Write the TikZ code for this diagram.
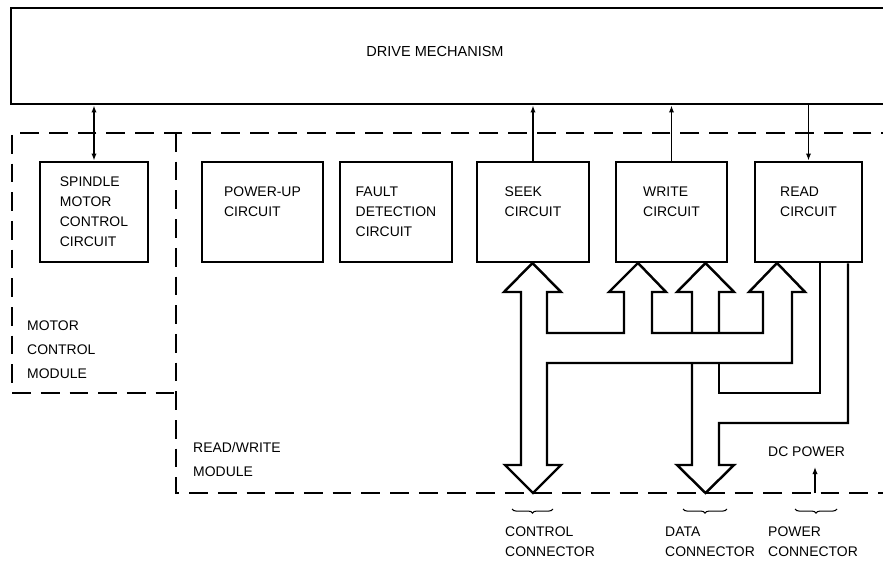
\documentclass[tikz,border=0pt]{standalone}
\usepackage{fontspec}
\setmainfont{Liberation Sans}
\usepackage{tikz}
\usetikzlibrary{arrows.meta,calc,decorations.pathreplacing}

\begin{document}
\begin{tikzpicture}[x=0.03cm,y=-0.03cm,>={Latex[length=6pt,width=4.5pt]},
  every node/.style={font=\fontsize{11.9}{17}\selectfont,inner sep=0pt},
  ckt/.style={draw,line width=2.5pt,minimum height=3cm,align=left},
  frame/.style={line width=2.4pt,dash pattern=on 16pt off 8.5pt},
  bus/.style={line width=2.1pt,line join=miter},
  sig/.style={line width=1.1pt},
  brc/.style={decorate,decoration={brace,mirror,amplitude=3.5pt},line width=0.9pt},
  lbl/.style={align=left,anchor=west},
  modlbl/.style={lbl,font=\fontsize{11.9}{20.5}\selectfont}]
  \useasboundingbox (0,0) rectangle (883,565);
  \clip (0,0) rectangle (883,565);
  \node[draw,line width=2.5pt,minimum width=26.7cm,minimum height=2.88cm] (drive) at (456,56) {};
  \node[font=\fontsize{12.4}{17}\selectfont] (drivetxt) at (435,52) {DRIVE MECHANISM};
  \draw[frame] (900,133) -- (12,133) -- (12,393) -- (176,393);
  \draw[frame] (176,133) -- (176,493) -- (900,493);
  \node[ckt,minimum width=3.24cm] (spindle) at (94,212) {SPINDLE\\MOTOR\\CONTROL\\CIRCUIT};
  \node[ckt,minimum width=3.63cm] (powerup) at (262.5,212) {POWER-UP\\CIRCUIT\\~};
  \node[ckt,minimum width=3.36cm] (fault) at (396,212) {FAULT\\DETECTION\\CIRCUIT};
  \node[ckt,minimum width=3.36cm] (seek) at (533,212) {SEEK\\CIRCUIT\\~};
  \node[ckt,minimum width=3.33cm] (write) at (671.5,212) {WRITE\\CIRCUIT\\~};
  \node[ckt,minimum width=3.21cm] (read) at (808.5,212) {READ\\CIRCUIT\\~};
  \draw[sig,<->] (spindle.north) -- (spindle.north |- drive.south);
  \draw[sig,->] (seek.north) -- (seek.north |- drive.south);
  \draw[sig,->] (write.north) -- (write.north |- drive.south);
  \draw[sig,<-] (read.north) -- (read.north |- drive.south);
  \draw[bus] (547,465) -- (547,363) -- (792,363) -- (792,292) -- (805,292) -- (777,263)
    -- (749,292) -- (763,292) -- (763,333) -- (652,333) -- (652,292) -- (666,292)
    -- (638,263) -- (609,292) -- (624,292) -- (624,333) -- (547,333) -- (547,292)
    -- (561,292) -- (532.5,263) -- (504,292) -- (521,292) -- (521,465) -- (505,465)
    -- (533,493) -- (561,465) -- cycle;
  \draw[bus] (692,333) -- (692,292) -- (677,292) -- (705.5,263) -- (734,292) -- (719,292) -- (719,333);
  \draw[bus] (692,363) -- (692,465) -- (677,465) -- (705.5,493) -- (734,465) -- (719,465)
    -- (719,423) -- (848,423) -- (848,0 |- read.south);
  \draw[bus] (719,363) -- (719,393) -- (820,393) -- (820,0 |- read.south);
  \coordinate (pwrin) at (815,493);
  \draw[sig,->] (pwrin) -- (815,467);
  \node[lbl] (dcpwr) at (768,452) {DC POWER};
  \draw[brc] (512,509) -- (553,509);
  \draw[brc] (683,509) -- (727,509);
  \draw[brc] (795,509) -- (837,509);
  \node[lbl] (ctrlconn) at (505,542) {CONTROL\\CONNECTOR};
  \node[lbl] (dataconn) at (665,542) {DATA\\CONNECTOR};
  \node[lbl] (pwrconn) at (768,542) {POWER\\CONNECTOR};
  \node[modlbl] (mcm) at (27,350) {MOTOR\\CONTROL\\MODULE};
  \node[modlbl,font=\fontsize{11.9}{21.3}\selectfont] (rwm) at (193,459.5) {READ/WRITE\\MODULE};
\end{tikzpicture}
\end{document}
